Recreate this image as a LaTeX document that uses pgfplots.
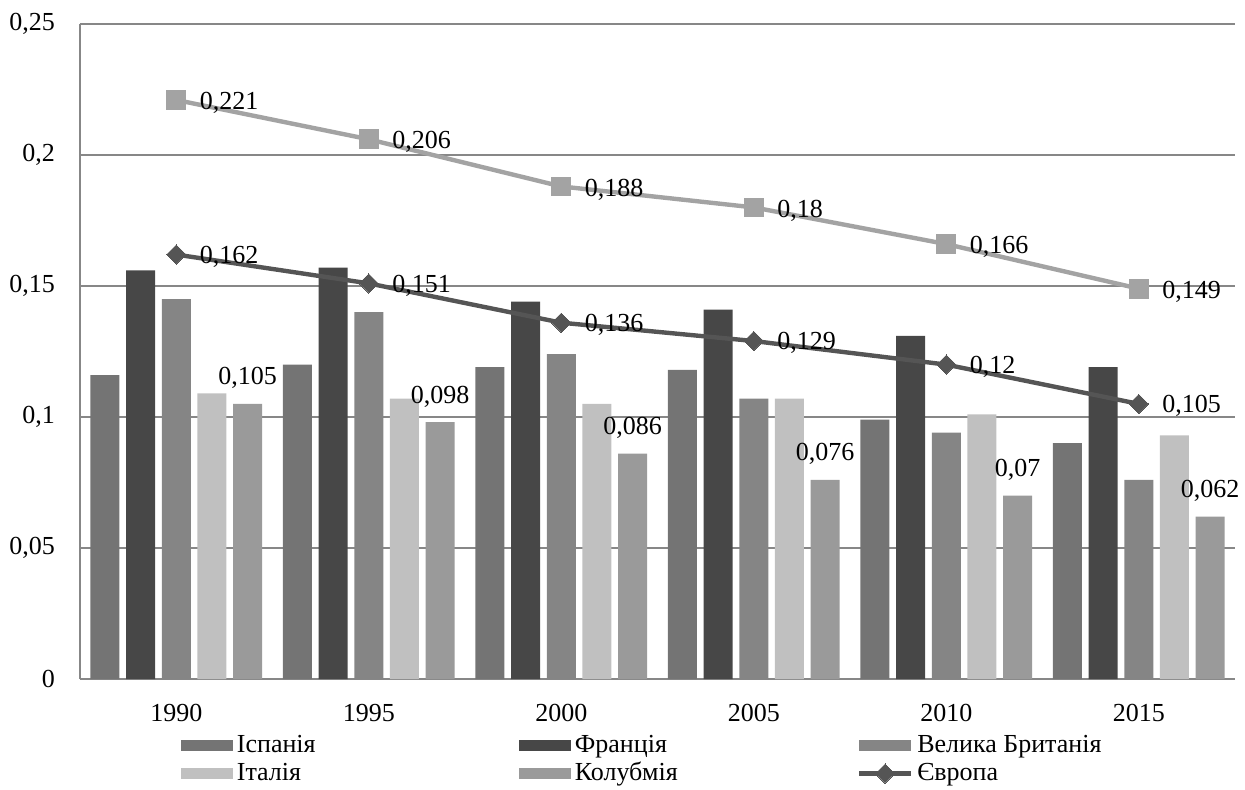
\documentclass[border=0pt]{standalone}
\usepackage{fontspec}
\setmainfont{Liberation Serif}
\usepackage{pgfplots}
\pgfplotsset{compat=1.18}

\definecolor{cSpain}{HTML}{747474}
\definecolor{cFrance}{HTML}{474747}
\definecolor{cUK}{HTML}{858585}
\definecolor{cItaly}{HTML}{C0C0C0}
\definecolor{cColomb}{HTML}{9A9A9A}
\definecolor{cTop}{HTML}{A3A3A3}
\definecolor{cEurope}{HTML}{555555}
\definecolor{cGrid}{HTML}{878787}

\pgfplotsset{
  barbox/.style={
    legend image code/.code={\fill[##1] (0pt,-2.75pt) rectangle (26pt,2.75pt);}},
  linebox/.style={
    legend image code/.code={\draw[mark repeat=2,mark phase=2,##1] plot coordinates {(0pt,0pt) (13pt,0pt) (26pt,0pt)};}},
}
\tikzset{lbl/.style={font=\fontsize{13}{15}\selectfont, text=black}}

\begin{document}
\fontsize{13}{15}\selectfont
\begin{tikzpicture}
  \begin{axis}[
    name=ax,
    scale only axis,
    width=577.5pt,
    height=327.5pt,
    xmin=1987.5, xmax=2017.5,
    ymin=0, ymax=0.25,
    scaled y ticks=false,
    xtick={1990,1995,2000,2005,2010,2015},
    xticklabels={1990,1995,2000,2005,2010,2015},
    ytick={0,0.05,0.1,0.15,0.2,0.25},
    yticklabels={{0},{0,05},{0,1},{0,15},{0,2},{0,25}},
    xtick style={draw=none},
    ytick style={draw=none},
    yticklabel style={xshift=-8pt},
    xticklabel style={yshift=-8pt},
    axis lines*=left,
    axis line style={cGrid, line width=0.6pt},
    ymajorgrids,
    grid style={cGrid, line width=0.6pt},
    clip=false,
    legend columns=3,
    legend cell align=left,
    legend style={draw=none, fill=none, inner sep=0pt,
      font=\fontsize{13}{14}\selectfont,
      at={(0.087,-0.079)}, anchor=north west,
      row sep=-1pt,
      /tikz/every even column/.append style={column sep=2pt}},
  ]
    \addplot[ybar, bar width=14.5pt, bar shift=-35.7pt, fill=cSpain, draw=none, barbox]
      coordinates {(1990,0.116) (1995,0.120) (2000,0.119) (2005,0.118) (2010,0.099) (2015,0.090)};
    \addlegendentry{\makebox[137pt][l]{Іспанія}}
    \addplot[ybar, bar width=14.5pt, bar shift=-17.85pt, fill=cFrance, draw=none, barbox]
      coordinates {(1990,0.156) (1995,0.157) (2000,0.144) (2005,0.141) (2010,0.131) (2015,0.119)};
    \addlegendentry{\makebox[137pt][l]{Франція}}
    \addplot[ybar, bar width=14.5pt, bar shift=0pt, fill=cUK, draw=none, barbox]
      coordinates {(1990,0.145) (1995,0.140) (2000,0.124) (2005,0.107) (2010,0.094) (2015,0.076)};
    \addlegendentry{Велика Британія}
    \addplot[ybar, bar width=14.5pt, bar shift=17.85pt, fill=cItaly, draw=none, barbox]
      coordinates {(1990,0.109) (1995,0.107) (2000,0.105) (2005,0.107) (2010,0.101) (2015,0.093)};
    \addlegendentry{\makebox[137pt][l]{Італія}}
    \addplot[ybar, bar width=14.5pt, bar shift=35.7pt, fill=cColomb, draw=none, barbox,
      point meta=explicit symbolic,
      nodes near coords, every node near coord/.append style={lbl, anchor=south, xshift=35.7pt, yshift=3pt}]
      coordinates {(1990,0.105) [0,105] (1995,0.098) [0,098] (2000,0.086) [0,086]
                   (2005,0.076) [0,076] (2010,0.070) [0,07] (2015,0.062) [0,062]};
    \addlegendentry{\makebox[137pt][l]{Колубмія}}
    \addplot[color=cEurope, line width=2.2pt, mark=square*, mark size=3.4pt,
      mark options={solid, fill=cEurope, line width=0pt, rotate=45}, linebox,
      point meta=explicit symbolic,
      nodes near coords, every node near coord/.append style={lbl, anchor=west, xshift=7.5pt, yshift=-1pt}]
      coordinates {(1990,0.162) [0,162] (1995,0.151) [0,151] (2000,0.136) [0,136]
                   (2005,0.129) [0,129] (2010,0.120) [0,12] (2015,0.105) [0,105]};
    \addlegendentry{Європа}
    \addplot[color=cTop, line width=2.2pt, mark=square*, mark size=4.7pt,
      mark options={solid, fill=cTop, line width=0pt}, forget plot,
      point meta=explicit symbolic,
      nodes near coords, every node near coord/.append style={lbl, anchor=west, xshift=7.5pt, yshift=-1.5pt}]
      coordinates {(1990,0.221) [0,221] (1995,0.206) [0,206] (2000,0.188) [0,188]
                   (2005,0.180) [0,18] (2010,0.166) [0,166] (2015,0.149) [0,149]};
  \end{axis}
  \pgfresetboundingbox
  \path[use as bounding box] ([shift={(-40pt,-55pt)}]ax.south west) rectangle ++(622.5pt,394.5pt);
\end{tikzpicture}
\end{document}
